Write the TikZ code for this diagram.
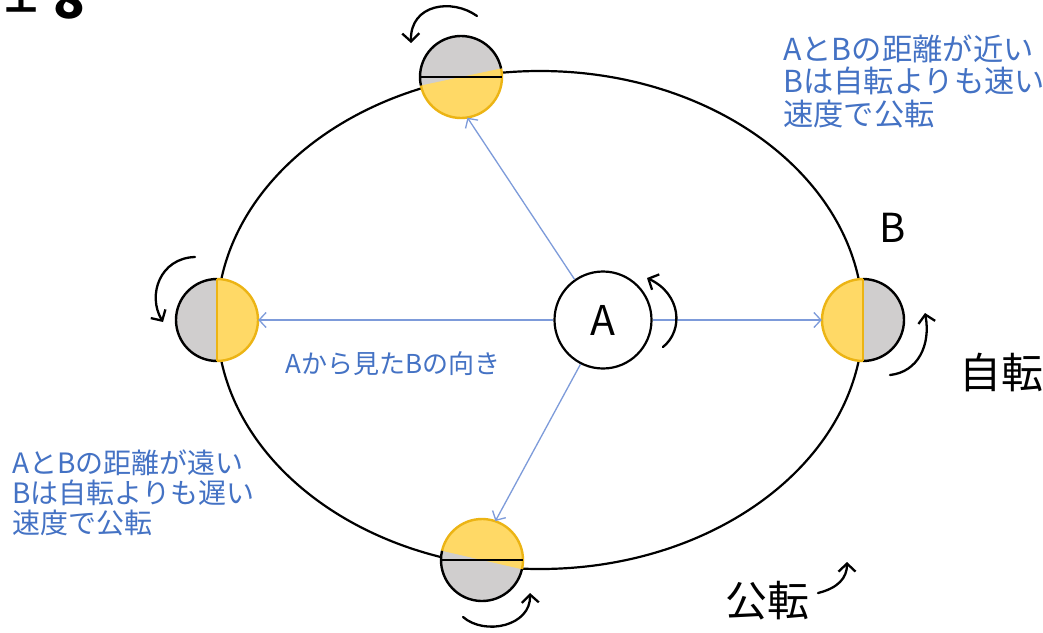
\documentclass[tikz,border=0pt]{standalone}
\usepackage{fontspec}
\setmainfont{Noto Sans CJK JP}
\usetikzlibrary{arrows.meta}

\definecolor{textblue}{RGB}{68,114,196}
\definecolor{linkblue}{RGB}{125,155,218}
\definecolor{sunyellow}{RGB}{255,217,102}
\definecolor{rimgold}{RGB}{236,180,20}
\definecolor{shadegray}{RGB}{208,206,206}

\tikzset{
  orbit/.style={draw=black, line width=2.2pt},
  planet/.style={circle, minimum size=82pt, inner sep=0pt},
  rimdark/.style={draw=black, line width=2.4pt},
  rimlit/.style={draw=rimgold, line width=2.4pt},
  sightline/.style={draw=linkblue, line width=1.3pt,
    -{Straight Barb[length=7pt,width=15pt,line width=1.3pt]}},
  spin/.style={draw=black, line width=2.3pt, line cap=round,
    -{Straight Barb[length=8pt,width=17pt,line width=2.3pt]}},
  bluetext/.style={text=textblue, align=left, inner sep=0pt},
  bigtext/.style={inner sep=0pt, font=\fontsize{42}{42}\selectfont},
}

\begin{document}
\begin{tikzpicture}[x=1pt,y=-1pt]
\useasboundingbox[fill=white] (0,0) rectangle (1043,632);

% heading, cut off by the top edge
\node[anchor=base west, inner sep=0pt, font=\fontsize{32}{32}\selectfont\bfseries] (head) at (5,10) {土};
\node[anchor=base west, inner sep=0pt, font=\fontsize{52}{52}\selectfont\bfseries] (headnum) at (53,18) {8};

% orbit of B around A
\draw[orbit] (540,320) ellipse[x radius=323, y radius=249];

% B at four points of the orbit
\node[planet] (Pt) at (461,77) {};
\node[planet] (Pl) at (217,320) {};
\node[planet] (Pr) at (863,320) {};
\node[planet] (Pb) at (482,560) {};

% top: lit half tilted toward A
\begin{scope}[shift={(Pt.center)}, yscale=-1]
  \fill[shadegray] (0,0) circle[radius=41];
  \fill[sunyellow] (192:41) arc[start angle=192, end angle=372, radius=41] -- cycle;
  \draw[rimlit] (192:41) arc[start angle=192, end angle=372, radius=41];
  \draw[rimdark] (12:41) arc[start angle=12, end angle=192, radius=41];
  \draw[black, line width=1.8pt] (180:41) -- (0:41);
\end{scope}

% left
\begin{scope}[shift={(Pl.center)}, yscale=-1]
  \fill[shadegray] (90:41) arc[start angle=90, end angle=270, radius=41] -- cycle;
  \fill[sunyellow] (-90:41) arc[start angle=-90, end angle=90, radius=41] -- cycle;
  \draw[rimdark] (90:41) arc[start angle=90, end angle=270, radius=41];
  \draw[rimlit] (-90:41) arc[start angle=-90, end angle=90, radius=41];
  \draw[rimgold, line width=2pt] (90:41) -- (-90:41);
\end{scope}

% right
\begin{scope}[shift={(Pr.center)}, yscale=-1]
  \fill[sunyellow] (90:41) arc[start angle=90, end angle=270, radius=41] -- cycle;
  \fill[shadegray] (-90:41) arc[start angle=-90, end angle=90, radius=41] -- cycle;
  \draw[rimlit] (90:41) arc[start angle=90, end angle=270, radius=41];
  \draw[rimdark] (-90:41) arc[start angle=-90, end angle=90, radius=41];
  \draw[rimgold, line width=2pt] (90:41) -- (-90:41);
\end{scope}

% bottom: lit half tilted toward A
\begin{scope}[shift={(Pb.center)}, yscale=-1]
  \fill[shadegray] (0,0) circle[radius=41];
  \fill[sunyellow] (-13:41) arc[start angle=-13, end angle=167, radius=41] -- cycle;
  \draw[rimlit] (-13:41) arc[start angle=-13, end angle=167, radius=41];
  \draw[rimdark] (167:41) arc[start angle=167, end angle=347, radius=41];
  \draw[black, line width=1.8pt] (180:41) -- (0:41);
\end{scope}

% A at the centre
\node[circle, draw=black, line width=2.2pt, fill=white, minimum size=97pt,
      inner sep=0pt, font=\fontsize{41}{41}\selectfont] (A) at (603,320) {A};

% directions from A to B
\draw[sightline] (A.west) -- (Pl.east);
\draw[sightline] (A.east) -- (Pr.west);
\draw[sightline] (A.125) -- (Pt.-81);
\draw[sightline] (A.-117) -- (Pb.71);

\node[bluetext, anchor=base west, font=\fontsize{26}{26}\selectfont] (dirlabel) at (285,373) {Aから見たBの向き};

% spin arrows
\coordinate (st0) at (477,16);  \coordinate (st1) at (411,43);
\draw[spin] (st0) .. controls (452,-2) and (410,4) .. (st1);
\coordinate (sl0) at (195,257); \coordinate (sl1) at (163,322);
\draw[spin] (sl0) .. controls (160,258) and (147,295) .. (sl1);
\coordinate (sr0) at (890,375); \coordinate (sr1) at (925,313);
\draw[spin] (sr0) .. controls (918,372) and (931,345) .. (sr1);
\coordinate (sb0) at (463,617); \coordinate (sb1) at (530,593);
\draw[spin] (sb0) .. controls (485,636) and (531,626) .. (sb1);
\coordinate (sa0) at (663,347); \coordinate (sa1) at (647,278);
\draw[spin] (sa0) .. controls (684,330) and (681,294) .. (sa1);
\coordinate (so0) at (818,593); \coordinate (so1) at (847,562);
\draw[spin] (so0) .. controls (838,588) and (847,578) .. (so1);

% labels
\node[inner sep=0pt, anchor=base west, font=\fontsize{40}{40}\selectfont] (Blabel) at (879,242) {B};
\node[bigtext] (spinlabel) at (1001,373) {自転};
\node[bigtext] (orbitlabel) at (767,601) {公転};

% multi-line blocks: the base anchor sits on the last line
\node[bluetext, anchor=base west, font=\fontsize{30.3}{32.5}\selectfont] (near) at (783,125)
  {AとBの距離が近い\\Bは自転よりも速い\\速度で公転};
\node[bluetext, anchor=base west, font=\fontsize{28}{30}\selectfont] (far) at (12,533)
  {AとBの距離が遠い\\Bは自転よりも遅い\\速度で公転};
\end{tikzpicture}
\end{document}
